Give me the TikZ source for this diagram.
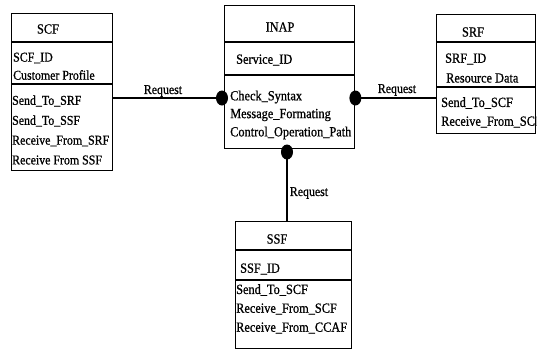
\documentclass[tikz,border=0pt]{standalone}
\usepackage{fontspec}
\setmainfont{Liberation Serif}
\newfontfamily\condserif[FakeStretch=0.88, FakeBold=0.8]{Liberation Serif}
\usetikzlibrary{shapes.geometric}

\begin{document}
\begin{tikzpicture}[x=1pt,y=-1pt,
  box/.style={draw, line width=1.4pt, rectangle, inner sep=0pt, anchor=north west},
  rule/.style={line width=1.3pt},
  txt/.style={anchor=west, inner sep=0pt, font=\condserif\fontsize{14}{16}\selectfont},
  smalltxt/.style={txt, font=\condserif\fontsize{13.5}{16}\selectfont},
  ttl/.style={inner sep=0pt, font=\condserif\fontsize{14}{16}\selectfont},
  link/.style={line width=1.2pt},
  knob/.style={ellipse, fill, inner sep=0pt, minimum width=12pt, minimum height=15pt},
  lbl/.style={inner sep=0pt, font=\condserif\fontsize{13.5}{16}\selectfont}]
\useasboundingbox (0,0) rectangle (542,349);

% ---------- SCF ----------
\node[box, minimum width=101pt, minimum height=157pt] (scf) at (11,13) {};
\draw[rule] (scf.west |- 0,42) -- (scf.east |- 0,42);
\draw[rule] (scf.west |- 0,84) -- (scf.east |- 0,84);
\node[ttl] (scft) at (48,29) {SCF};
\node[smalltxt] (scf1) at (13,58) {SCF\_ID};
\node[smalltxt] (scf2) at (13,75) {Customer Profile};
\node[smalltxt] (scf3) at (12,101) {Send\_To\_SRF};
\node[smalltxt] (scf4) at (12,121) {Send\_To\_SSF};
\node[smalltxt] (scf5) at (12,141) {Receive\_From\_SRF};
\node[smalltxt] (scf6) at (12,160) {Receive From SSF};

% ---------- INAP ----------
\node[box, minimum width=130pt, minimum height=143pt] (inap) at (224,5) {};
\draw[rule] (inap.west |- 0,42) -- (inap.east |- 0,42);
\draw[rule] (inap.west |- 0,75) -- (inap.east |- 0,75);
\node[ttl] (inapt) at (280,27) {INAP};
\node[txt] (inap1) at (236,60) {Service\_ID};
\begin{scope}
  \clip (inap.north west) rectangle (inap.south east);
  \node[txt] (inap2) at (230,97) {Check\_Syntax};
  \node[txt] (inap3) at (230,115) {Message\_Formating};
  \node[txt] (inap4) at (230,133) {Control\_Operation\_Path};
\end{scope}

% ---------- SRF ----------
\node[box, minimum width=99pt, minimum height=119pt] (srf) at (436,14) {};
\draw[rule] (srf.west |- 0,42) -- (srf.east |- 0,42);
\draw[rule] (srf.west |- 0,87) -- (srf.east |- 0,87);
\node[ttl] (srft) at (473,32) {SRF};
\node[txt] (srf1) at (445,59) {SRF\_ID};
\node[txt] (srf2) at (446,78) {Resource Data};
\begin{scope}
  \clip (srf.north west) rectangle (srf.south east);
  \node[txt] (srf3) at (441,103) {Send\_To\_SCF};
  \node[txt] (srf4) at (441,122) {Receive\_From\_SCF};
\end{scope}

% ---------- SSF ----------
\node[box, minimum width=116pt, minimum height=127pt] (ssf) at (235,221) {};
\draw[rule] (ssf.west |- 0,250) -- (ssf.east |- 0,250);
\draw[rule] (ssf.west |- 0,280) -- (ssf.east |- 0,280);
\node[ttl] (ssft) at (277,239) {SSF};
\node[txt] (ssf1) at (240,269) {SSF\_ID};
\node[txt] (ssf2) at (236,290) {Send\_To\_SCF};
\node[txt] (ssf3) at (236,309) {Receive\_From\_SCF};
\node[txt] (ssf4) at (236,328) {Receive\_From\_CCAF};

% ---------- connectors with their round ends ----------
\coordinate (scfout) at (scf.east |- 0,98);
\coordinate (srfin) at (srf.west |- 0,98);
\coordinate (ssfin) at (287,221);
\node[knob] (kl) at (222,98) {};
\node[knob] (kr) at (inap.east |- 0,98) {};
\node[knob] (kb) at (287,152) {};

\draw[link] (scfout) -- (kl.center);
\draw[link] (kr.center) -- (srfin);
\draw[link] (kb.center) -- (ssfin);

\node[lbl] (req1) at (163,91) {Request};
\node[lbl] (req2) at (397,90) {Request};
\node[lbl] (req3) at (309,193) {Request};
\end{tikzpicture}
\end{document}
